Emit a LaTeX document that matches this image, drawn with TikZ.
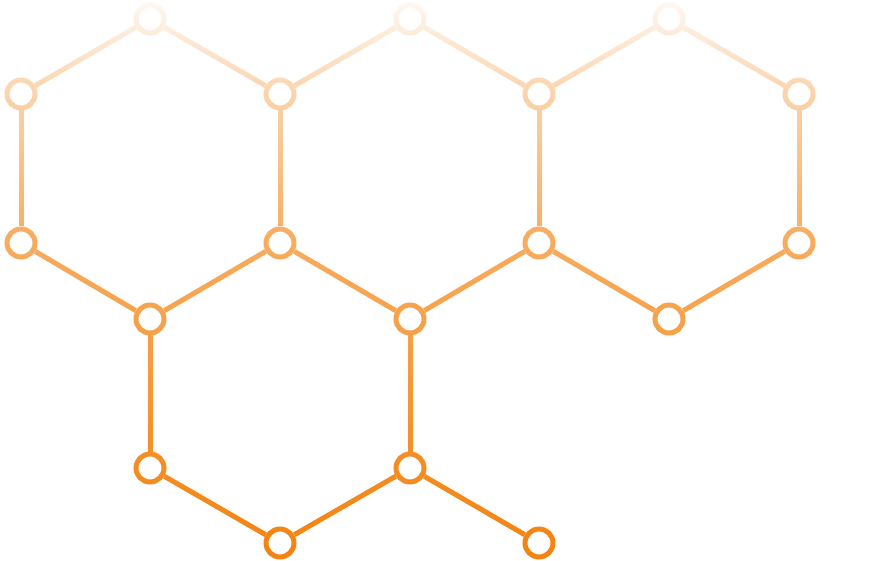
\documentclass[tikz,border=0pt]{standalone}
\definecolor{hexorange}{RGB}{244,131,16}
\tikzset{
  atom/.style={circle, draw=hexorange, line width=5pt, fill=white, minimum size=28pt, inner sep=0pt},
  bond/.style={draw=hexorange, line width=5pt},
}
\begin{document}
\begin{tikzpicture}[x=1pt,y=-1pt]
\useasboundingbox (0,0) rectangle (881,561);
% nodes
\node[atom] (t1) at (150,19) {};
\node[atom] (t2) at (410,19) {};
\node[atom] (t3) at (669,19) {};
\node[atom] (a1) at (21,94) {};
\node[atom] (a2) at (280,94) {};
\node[atom] (a3) at (539,94) {};
\node[atom] (a4) at (799,94) {};
\node[atom] (b1) at (21,243) {};
\node[atom] (b2) at (280,243) {};
\node[atom] (b3) at (539,243) {};
\node[atom] (b4) at (799,243) {};
\node[atom] (c1) at (150,319) {};
\node[atom] (c2) at (410,319) {};
\node[atom] (c3) at (669,319) {};
\node[atom] (d1) at (150,468) {};
\node[atom] (d2) at (410,468) {};
\node[atom] (e1) at (280,543) {};
\node[atom] (e2) at (539,543) {};
% bonds
\foreach \u/\v in {t1/a1,t1/a2,a1/b1,a2/b2,b1/c1,b2/c1,
                   t2/a2,t2/a3,a3/b3,b2/c2,b3/c2,
                   t3/a3,t3/a4,a4/b4,b3/c3,b4/c3,
                   c1/d1,c2/d2,d1/e1,d2/e1,d2/e2}
  \draw[bond] (\u) -- (\v);
% vertical fade towards the top (white veil)
\foreach \i in {0,...,560}{
  \pgfmathsetmacro\op{\i<94 ? 0.95-0.30*\i/94 : (\i<243 ? 0.65-0.32*(\i-94)/149 : (\i<319 ? 0.33-0.08*(\i-243)/76 : (\i<468 ? 0.25-0.17*(\i-319)/149 : max(0,0.08-0.08*(\i-468)/93))))}
  \fill[white, opacity=\op] (0,\i) rectangle (881,\i+1);
}
\end{tikzpicture}
\end{document}
